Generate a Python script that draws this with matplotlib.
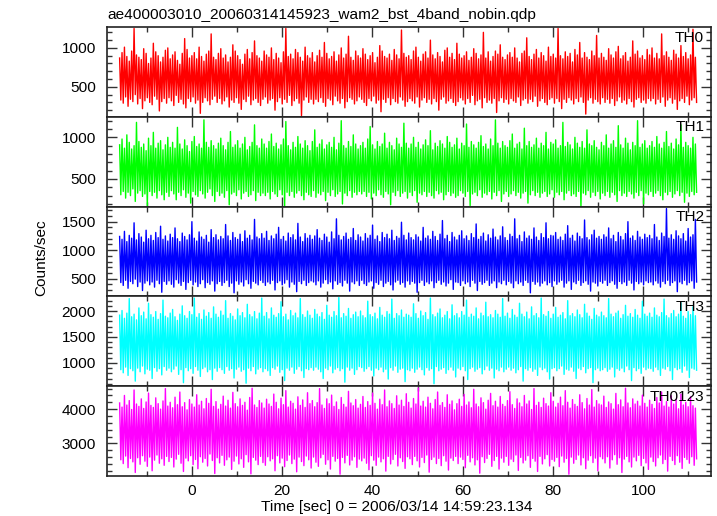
import numpy as np
import matplotlib
matplotlib.use("Agg")
import matplotlib.pyplot as plt
from matplotlib.ticker import MultipleLocator

plt.rcParams['font.family'] = ['Liberation Sans', 'DejaVu Sans']
plt.rcParams['font.size'] = 11.1

title = "ae400003010_20060314145923_wam2_bst_4band_nobin.qdp"
xlabel = "Time [sec] 0 = 2006/03/14 14:59:23.134"
ylabel = "Counts/sec"

# light curve start/stop (sec) and the per-bin peaks/troughs
t_start, t_stop = -16.0, 111.8

th0_hi = [870, 940, 1010, 890, 830, 960, 1250, 910, 880, 850, 990, 930, 800, 870, 1060, 950, 900, 820, 880, 970,
          1000, 860, 910, 950, 840, 790, 930, 1120, 980, 870, 900, 940, 860, 1010, 890, 830, 920, 960, 1180, 880,
          850, 930, 990, 870, 910, 820, 880, 1040, 960, 900, 850, 790, 920, 980, 860, 940, 1090, 900, 870, 830,
          960, 910, 880, 1000, 850, 930, 870, 810, 950, 1250, 890, 920, 860, 980, 940, 880, 830, 1010, 900, 870,
          940, 820, 900, 970, 880, 1070, 930, 860, 890, 950, 830, 910, 1000, 870, 920, 1150, 880, 840, 960, 900,
          870, 990, 920, 850, 900, 940, 810, 880, 1030, 960, 890, 870, 920, 840, 980, 910, 860, 1230, 930, 880,
          900, 850, 960, 1010, 880, 830, 920, 950, 870, 1100, 910, 860, 940, 890, 820, 970, 1000, 880, 930, 850,
          1060, 920, 870, 900, 950, 840, 880, 990, 930, 860, 910, 1200, 870, 950, 830, 890, 960, 920, 1040, 880,
          850, 910, 940, 880, 1000, 870, 820, 930, 960, 1130, 890, 850, 920, 980, 870, 940, 900, 830, 1010, 890,
          920, 870, 1250, 900, 860, 950, 890, 930, 820, 980, 910, 1070, 870, 940, 880, 850, 960, 900, 1160, 870,
          930, 880, 840, 990, 910, 870, 950, 1020, 860, 900, 940, 830, 880, 1090, 920, 960, 870, 900, 850, 980,
          910, 1000, 870, 930, 860, 1180, 900, 950, 880, 840, 970, 920, 870, 1030, 890, 940, 860, 910, 1240, 880]
th0_lo = [330, 290, 370, 250, 340, 310, 400, 280, 350, 220, 320, 360, 300, 270, 380, 340, 190, 310, 350, 290,
          360, 320, 260, 390, 300, 340, 280, 230, 350, 310, 370, 290, 330, 160, 300, 360, 320, 270, 340, 380,
          300, 350, 280, 320, 370, 240, 330, 300, 360, 290, 210, 340, 310, 380, 270, 330, 350, 300, 260, 340,
          370, 290, 330, 350, 200, 310, 360, 280, 340, 300, 390, 260, 320, 350, 290, 130, 330, 370, 300, 340,
          280, 340, 310, 360, 300, 250, 350, 330, 270, 380, 320, 290, 350, 230, 310, 360, 340, 280, 320, 370,
          340, 300, 260, 350, 320, 380, 290, 330, 180, 340, 300, 360, 270, 350, 310, 290, 370, 330, 250, 310,
          350, 320, 290, 370, 240, 330, 360, 300, 340, 280, 350, 310, 200, 340, 370, 290, 320, 350, 300, 260,
          310, 360, 330, 280, 350, 300, 390, 270, 320, 340, 230, 360, 300, 330, 290, 350, 170, 320, 360, 300,
          340, 280, 350, 320, 300, 370, 260, 330, 350, 290, 340, 310, 380, 250, 320, 350, 300, 270, 340, 360,
          290, 350, 310, 220, 340, 300, 360, 330, 280, 350, 310, 370, 300, 150, 330, 360, 290, 340, 310, 280,
          360, 300, 340, 290, 350, 260, 320, 370, 300, 330, 280, 350, 310, 240, 340, 360, 300, 330, 290, 350,
          320, 350, 280, 340, 300, 370, 250, 330, 360, 290, 340, 210, 320, 350, 300, 380, 270, 330, 360, 300]

th1_hi = [910, 980, 870, 1030, 940, 860, 900, 1180, 950, 880, 920, 840, 990, 900, 1060, 870, 930, 960, 850, 910,
          1000, 880, 940, 870, 1120, 920, 860, 970, 900, 830, 950, 1010, 890, 920, 870, 1210, 940, 880, 960, 900,
          860, 930, 990, 900, 850, 940, 1070, 880, 910, 960, 870, 920, 1000, 850, 890, 940, 1150, 900, 870, 980,
          920, 870, 950, 1040, 890, 930, 860, 910, 980, 1190, 900, 850, 940, 880, 1010, 920, 870, 960, 900, 840,
          950, 1090, 880, 920, 970, 860, 910, 940, 880, 1000, 850, 930, 1200, 900, 870, 950, 890, 1030, 920, 860,
          900, 940, 870, 980, 1130, 910, 860, 950, 890, 920, 1050, 870, 940, 900, 850, 990, 920, 880, 1170, 930,
          870, 920, 1000, 880, 940, 860, 910, 970, 900, 1080, 850, 930, 890, 960, 920, 870, 1010, 940, 880, 910,
          990, 860, 930, 900, 1160, 880, 950, 910, 870, 940, 1020, 890, 920, 860, 980, 900, 1210, 930, 870, 950,
          900, 880, 960, 1040, 870, 920, 940, 860, 1110, 900, 950, 880, 910, 990, 870, 930, 900, 1060, 860, 940,
          920, 970, 870, 900, 1180, 890, 940, 910, 860, 1000, 930, 880, 950, 870, 1090, 920, 900, 960, 880, 850,
          940, 900, 1030, 870, 920, 960, 880, 1140, 910, 870, 990, 930, 850, 940, 900, 1200, 880, 920, 960, 870,
          900, 950, 880, 1010, 920, 870, 940, 1070, 890, 930, 860, 980, 910, 1150, 880, 940, 900, 870, 1000, 920]
th1_lo = [310, 350, 270, 340, 300, 380, 230, 330, 360, 290, 320, 180, 350, 300, 340, 270, 360, 310, 250, 340,
          290, 360, 320, 250, 340, 300, 370, 280, 330, 210, 350, 310, 290, 360, 320, 270, 340, 380, 300, 230,
          350, 300, 330, 280, 360, 190, 320, 340, 300, 370, 260, 330, 350, 290, 310, 360, 240, 340, 300, 330,
          300, 340, 260, 350, 320, 290, 370, 310, 170, 340, 300, 350, 280, 330, 360, 300, 250, 340, 310, 290,
          360, 280, 330, 310, 350, 240, 340, 300, 370, 290, 320, 350, 200, 330, 300, 360, 280, 340, 310, 350,
          320, 350, 290, 340, 260, 330, 300, 370, 310, 280, 350, 320, 190, 340, 300, 360, 290, 330, 350, 270,
          340, 300, 360, 220, 330, 310, 350, 290, 340, 300, 270, 360, 320, 340, 250, 310, 350, 300, 330, 280,
          300, 360, 330, 290, 350, 180, 320, 340, 300, 370, 280, 330, 310, 350, 260, 340, 300, 360, 230, 320,
          350, 290, 320, 360, 300, 340, 270, 330, 350, 210, 310, 360, 300, 340, 280, 330, 350, 290, 320, 370,
          280, 340, 310, 350, 250, 330, 360, 300, 320, 290, 350, 170, 330, 310, 360, 280, 340, 300, 350, 260,
          330, 300, 350, 280, 340, 310, 230, 360, 300, 330, 290, 350, 320, 270, 340, 300, 360, 200, 330, 310,
          350, 290, 330, 360, 300, 250, 340, 310, 350, 280, 320, 360, 300, 340, 220, 330, 290, 350, 310, 340]

th2_hi = [1240, 1190, 1330, 1150, 1260, 1210, 1480, 1180, 1290, 1230, 1140, 1350, 1200, 1260, 1170, 1310, 1220, 1420, 1190, 1250,
          1160, 1280, 1220, 1390, 1200, 1150, 1300, 1240, 1180, 1270, 1500, 1210, 1160, 1320, 1230, 1190, 1260, 1140, 1360, 1220,
          1270, 1180, 1240, 1200, 1450, 1250, 1170, 1310, 1220, 1190, 1280, 1150, 1340, 1210, 1260, 1180, 1540, 1230, 1200, 1290,
          1210, 1330, 1170, 1250, 1200, 1280, 1400, 1190, 1240, 1160, 1300, 1220, 1270, 1180, 1470, 1230, 1150, 1290, 1210, 1260,
          1190, 1250, 1360, 1210, 1170, 1280, 1230, 1140, 1320, 1200, 1550, 1260, 1180, 1240, 1300, 1190, 1220, 1380, 1170, 1270,
          1230, 1160, 1290, 1210, 1260, 1440, 1190, 1250, 1150, 1310, 1220, 1280, 1200, 1350, 1170, 1240, 1210, 1490, 1260, 1180,
          1300, 1220, 1180, 1270, 1230, 1160, 1400, 1210, 1250, 1190, 1330, 1240, 1170, 1280, 1520, 1200, 1260, 1150, 1310, 1230,
          1180, 1260, 1340, 1200, 1250, 1170, 1290, 1220, 1460, 1190, 1240, 1300, 1160, 1270, 1210, 1370, 1230, 1180, 1250, 1410,
          1220, 1170, 1280, 1240, 1550, 1200, 1260, 1150, 1320, 1210, 1250, 1190, 1390, 1230, 1170, 1290, 1220, 1480, 1200, 1260,
          1250, 1310, 1190, 1230, 1170, 1280, 1430, 1210, 1260, 1160, 1300, 1240, 1200, 1530, 1220, 1180, 1270, 1350, 1210, 1240,
          1190, 1270, 1230, 1390, 1200, 1260, 1150, 1310, 1240, 1180, 1290, 1500, 1210, 1250, 1170, 1330, 1230, 1190, 1280, 1220,
          1260, 1200, 1450, 1230, 1170, 1300, 1240, 1730, 1210, 1270, 1190, 1340, 1250, 1200, 1290, 1160, 1380, 1230, 1270, 1540]
th2_lo = [430, 380, 470, 330, 450, 410, 490, 360, 440, 290, 420, 460, 390, 440, 350, 470, 410, 260, 450, 400,
          460, 400, 350, 480, 420, 380, 450, 310, 430, 470, 390, 440, 360, 410, 480, 340, 430, 400, 460, 280,
          410, 450, 380, 430, 470, 360, 420, 250, 460, 400, 440, 370, 480, 410, 330, 450, 420, 390, 470, 430,
          380, 440, 410, 470, 300, 430, 460, 390, 420, 480, 350, 440, 400, 270, 450, 410, 470, 380, 430, 460,
          440, 390, 460, 350, 420, 480, 410, 440, 320, 460, 400, 430, 370, 470, 420, 280, 440, 410, 460, 380,
          470, 410, 380, 440, 460, 330, 430, 400, 470, 360, 420, 450, 390, 300, 440, 470, 400, 430, 350, 460,
          400, 450, 420, 260, 430, 470, 380, 440, 410, 460, 340, 430, 470, 400, 440, 370, 420, 480, 310, 440,
          430, 380, 460, 410, 440, 360, 470, 420, 290, 450, 400, 430, 470, 380, 420, 460, 340, 440, 410, 470,
          390, 450, 420, 340, 460, 410, 440, 380, 470, 430, 250, 450, 400, 440, 370, 420, 460, 390, 430, 360,
          460, 400, 440, 470, 350, 420, 460, 310, 440, 410, 470, 380, 430, 460, 400, 280, 440, 420, 370, 450,
          420, 470, 380, 430, 460, 400, 330, 450, 410, 440, 380, 470, 420, 300, 450, 410, 440, 390, 460, 430,
          440, 390, 460, 420, 350, 450, 410, 470, 380, 430, 460, 270, 440, 410, 470, 390, 430, 460, 330, 440]

th3_hi = [1920, 2010, 1860, 1960, 2240, 1890, 1940, 1830, 2060, 1910, 1980, 1850, 2150, 1930, 1880, 1990, 1840, 1950, 2210, 1900,
          1870, 1960, 2030, 1890, 1820, 1940, 2100, 1910, 1860, 1990, 1930, 2250, 1880, 1950, 1840, 2020, 1900, 1970, 1860, 2080,
          1940, 1880, 2000, 1920, 2200, 1860, 1950, 1900, 1830, 2040, 1910, 1970, 1870, 2130, 1930, 1890, 1990, 1850, 1960, 2250,
          1900, 1970, 1850, 2060, 1920, 1880, 1950, 2180, 1890, 1940, 1830, 2010, 1910, 1960, 1870, 2240, 1930, 1880, 2000, 1920,
          1860, 2030, 1940, 1890, 1970, 1840, 2110, 1920, 1880, 1990, 1910, 2260, 1870, 1950, 1900, 2050, 1860, 1930, 1980, 1890,
          2000, 1910, 1870, 2190, 1930, 1890, 1960, 1850, 2070, 1920, 1880, 1990, 1940, 2230, 1860, 1950, 1910, 2020, 1880, 1940,
          1920, 1880, 2140, 1950, 1860, 2000, 1910, 1970, 1840, 2250, 1930, 1890, 1960, 2040, 1870, 1920, 1990, 1850, 2120, 1910,
          1950, 1870, 1990, 1920, 2210, 1880, 1940, 1900, 2060, 1850, 1960, 1910, 2170, 1890, 1930, 1870, 2010, 1940, 1880, 2240,
          1900, 1960, 1860, 2030, 1920, 1880, 2150, 1940, 1890, 1980, 1850, 2080, 1910, 1950, 1870, 2250, 1930, 1900, 1990, 1860,
          1940, 2070, 1880, 1920, 1970, 1850, 2200, 1910, 1950, 1890, 2020, 1930, 1870, 2130, 1960, 1900, 1840, 2050, 1920, 1890,
          1980, 1910, 1870, 2240, 1940, 1890, 1960, 2000, 1860, 1930, 2110, 1900, 1950, 1880, 2030, 1920, 1860, 2190, 1940, 1900,
          1960, 1880, 2060, 1920, 1890, 1970, 2230, 1910, 1870, 1950, 2010, 1890, 1940, 2160, 1900, 1860, 1990, 1930, 2080, 1910]
th3_lo = [870, 810, 920, 760, 890, 850, 650, 900, 830, 940, 790, 880, 860, 700, 910, 840, 890, 770, 930, 860,
          900, 830, 880, 940, 780, 870, 620, 910, 850, 890, 800, 930, 860, 740, 890, 920, 830, 870, 680, 900,
          840, 910, 870, 800, 930, 860, 890, 710, 880, 920, 840, 870, 610, 900, 850, 930, 790, 880, 910, 830,
          890, 850, 760, 910, 880, 940, 820, 870, 660, 900, 860, 920, 800, 880, 930, 850, 720, 890, 870, 910,
          860, 920, 880, 830, 700, 900, 870, 940, 810, 880, 910, 850, 890, 630, 920, 860, 900, 780, 870, 930,
          910, 840, 890, 930, 860, 750, 900, 870, 920, 830, 880, 690, 910, 860, 940, 820, 880, 900, 640, 870,
          850, 900, 820, 880, 920, 870, 770, 910, 860, 890, 600, 930, 850, 880, 910, 800, 870, 920, 860, 730,
          900, 870, 930, 850, 680, 890, 920, 840, 880, 910, 790, 870, 940, 860, 900, 710, 880, 850, 920, 830,
          880, 920, 860, 900, 810, 870, 930, 650, 890, 860, 910, 840, 880, 760, 920, 870, 900, 830, 690, 890,
          910, 850, 890, 940, 780, 880, 860, 920, 840, 700, 900, 870, 930, 810, 890, 910, 620, 870, 900, 850,
          870, 910, 840, 880, 920, 730, 890, 860, 900, 830, 940, 870, 660, 910, 850, 890, 800, 920, 870, 900,
          890, 840, 920, 870, 760, 900, 880, 930, 850, 680, 910, 870, 890, 820, 940, 860, 720, 900, 880, 860]

th0123_hi = [4180, 4060, 4400, 4120, 4250, 3990, 4560, 4150, 4080, 4300, 4020, 4210, 4470, 4110, 4050, 4330, 4160, 4000, 4240, 4600,
             4090, 4200, 4040, 4350, 4130, 4500, 4070, 4190, 3980, 4280, 4150, 4060, 4420, 4120, 4230, 4010, 4310, 4170, 4580, 4080,
             4220, 4000, 4140, 4380, 4090, 4260, 4030, 4490, 4160, 4070, 4300, 4110, 4200, 3970, 4340, 4610, 4120, 4050, 4250, 4180,
             4030, 4290, 4150, 4080, 4440, 4200, 4010, 4320, 4130, 4540, 4060, 4230, 4170, 4000, 4360, 4110, 4270, 4050, 4480, 4160,
             4250, 4070, 4190, 4600, 4120, 4020, 4300, 4160, 4410, 4080, 4210, 3990, 4340, 4140, 4060, 4520, 4180, 4100, 4280, 4030,
             4140, 4370, 4050, 4220, 4110, 4470, 4170, 4000, 4290, 4130, 4560, 4070, 4240, 4160, 4020, 4390, 4120, 4260, 4080, 4450,
             4200, 4030, 4310, 4150, 4620, 4090, 4230, 4060, 4350, 4170, 4010, 4280, 4500, 4110, 4190, 4050, 4420, 4140, 4240, 3980,
             4160, 4290, 4080, 4430, 4120, 4210, 4040, 4580, 4150, 4070, 4330, 4190, 4000, 4260, 4460, 4100, 4230, 4060, 4370, 4140,
             4080, 4250, 4510, 4130, 4020, 4300, 4180, 4070, 4400, 4150, 4240, 3990, 4600, 4110, 4200, 4050, 4320, 4160, 4090, 4480,
             4230, 4060, 4170, 4350, 4100, 4540, 4200, 4030, 4280, 4140, 4080, 4420, 4190, 4010, 4310, 4120, 4570, 4060, 4250, 4150,
             4120, 4380, 4050, 4210, 4160, 4000, 4460, 4130, 4270, 4070, 4610, 4180, 4040, 4300, 4150, 4230, 4090, 4410, 4170, 4060,
             4260, 4140, 4020, 4340, 4180, 4500, 4090, 4220, 4060, 4390, 4150, 4280, 4010, 4440, 4120, 4200, 4070, 4360, 4100, 4030]
th0123_lo = [2520, 2410, 2630, 2290, 2560, 2460, 2150, 2580, 2390, 2640, 2480, 2330, 2600, 2200, 2510, 2660, 2420, 2550, 2360, 2620,
             2470, 2590, 2310, 2540, 2680, 2420, 2180, 2570, 2490, 2640, 2380, 2530, 2260, 2610, 2450, 2560, 2340, 2690, 2500, 2120,
             2580, 2430, 2650, 2360, 2520, 2600, 2240, 2480, 2630, 2400, 2550, 2300, 2670, 2460, 2110, 2590, 2510, 2380, 2620, 2440,
             2360, 2610, 2490, 2550, 2200, 2640, 2430, 2570, 2320, 2500, 2660, 2410, 2540, 2170, 2600, 2470, 2350, 2630, 2520, 2280,
             2600, 2450, 2330, 2580, 2680, 2390, 2520, 2250, 2620, 2480, 2560, 2100, 2590, 2430, 2650, 2370, 2510, 2610, 2300, 2540,
             2490, 2570, 2420, 2230, 2640, 2510, 2360, 2600, 2460, 2550, 2190, 2620, 2400, 2530, 2680, 2340, 2580, 2470, 2270, 2610,
             2550, 2380, 2620, 2490, 2310, 2590, 2440, 2660, 2160, 2530, 2600, 2410, 2560, 2350, 2640, 2480, 2220, 2570, 2500, 2620,
             2410, 2600, 2530, 2290, 2650, 2460, 2580, 2370, 2520, 2130, 2610, 2440, 2560, 2680, 2330, 2500, 2620, 2250, 2570, 2450,
             2620, 2360, 2540, 2470, 2660, 2210, 2590, 2430, 2510, 2640, 2300, 2560, 2480, 2180, 2620, 2400, 2550, 2670, 2340, 2530,
             2480, 2590, 2320, 2630, 2450, 2560, 2100, 2600, 2420, 2530, 2660, 2370, 2580, 2260, 2510, 2640, 2440, 2570, 2200, 2610,
             2550, 2430, 2610, 2280, 2520, 2670, 2390, 2580, 2150, 2540, 2620, 2460, 2310, 2600, 2490, 2650, 2350, 2560, 2430, 2240,
             2600, 2470, 2340, 2580, 2660, 2410, 2530, 2190, 2620, 2500, 2380, 2640, 2450, 2270, 2590, 2530, 2420, 2610, 2360, 2550]

bands = ["TH0", "TH1", "TH2", "TH3", "TH0123"]
highs = [th0_hi, th1_hi, th2_hi, th3_hi, th0123_hi]
lows = [th0_lo, th1_lo, th2_lo, th3_lo, th0123_lo]
colors = ["#ff0000", "#00ff00", "#0000ff", "#00ffff", "#ff00ff"]
ylims = [(115, 1269), (168, 1247), (187, 1765), (552, 2282), (2047, 4670)]
ymajor = [500, 500, 500, 500, 1000]
yminor = [100, 100, 100, 100, 200]
xlim = (-18.8, 115.1)

fig, axes = plt.subplots(5, 1, figsize=(7.17, 5.16), dpi=100, sharex=True)
fig.subplots_adjust(left=0.1492, right=0.9923, top=0.9477, bottom=0.0775, hspace=0)

for ax, name, hi, lo, c, yl, ma, mi in zip(axes, bands, highs, lows, colors, ylims, ymajor, yminor):
    y = np.column_stack([hi, lo]).ravel()
    t = np.linspace(t_start, t_stop, y.size)
    ax.plot(t, y, color=c, lw=1.0)
    ax.set_xlim(*xlim)
    ax.set_ylim(*yl)
    ax.xaxis.set_major_locator(MultipleLocator(20))
    ax.xaxis.set_minor_locator(MultipleLocator(10))
    ax.yaxis.set_major_locator(MultipleLocator(ma))
    ax.yaxis.set_minor_locator(MultipleLocator(mi))
    ax.tick_params(which='both', direction='in', top=True, right=True,
                   color='#333333', width=1.0, labelsize=11.1)
    ax.tick_params(which='major', length=7, pad=8)
    ax.tick_params(which='minor', length=3.5)
    ax.tick_params(axis='x', which='major', pad=6)
    for s in ax.spines.values():
        s.set_linewidth(1.2)
        s.set_color('#222222')
    ax.text(0.988, 0.96, name, transform=ax.transAxes, ha='right', va='top',
            fontsize=11.1, zorder=5)

fig.text(0.1492, 1 - 19 / 516, title, ha='left', va='baseline', fontsize=11.1)
fig.text(396.5 / 717, 1 - 511 / 516, xlabel, ha='center', va='baseline', fontsize=11.1)
fig.text(41 / 717, 1 - 258 / 516, ylabel, ha='center', va='center', rotation=90, fontsize=11.1)

fig.savefig("out.png", dpi=100)
